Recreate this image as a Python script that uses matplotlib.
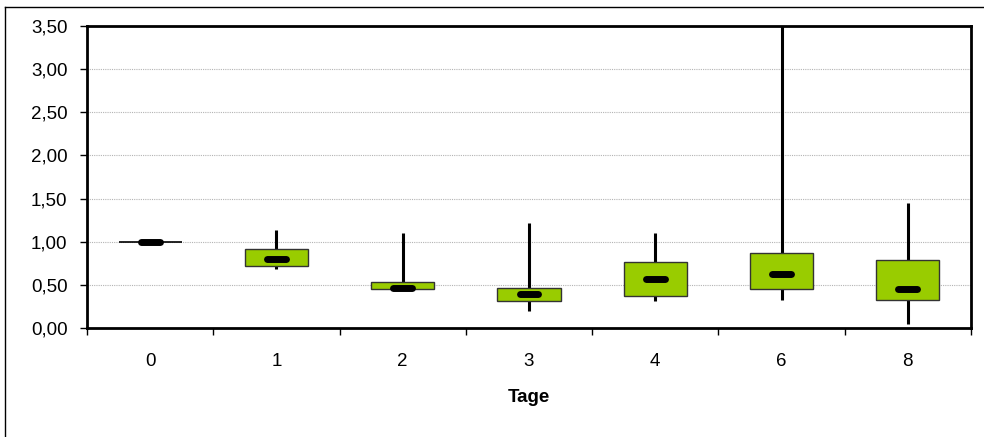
import matplotlib
matplotlib.use("Agg")
import matplotlib.pyplot as plt
from matplotlib.lines import Line2D
from matplotlib.ticker import FixedLocator, FuncFormatter

categories = ["0", "1", "2", "3", "4", "6", "8"]
whisker_low = [1.00, 0.68, 0.44, 0.20, 0.31, 0.32, 0.05]
q1 = [1.00, 0.72, 0.45, 0.31, 0.37, 0.45, 0.32]
median = [1.00, 0.80, 0.46, 0.39, 0.57, 0.63, 0.45]
q3 = [1.00, 0.92, 0.53, 0.465, 0.76, 0.87, 0.79]
whisker_high = [1.00, 1.13, 1.10, 1.22, 1.10, 3.60, 1.45]
y_ticks = [0.0, 0.5, 1.0, 1.5, 2.0, 2.5, 3.0, 3.5]

plt.rcParams['font.family'] = ['Liberation Sans', 'DejaVu Sans']

fig = plt.figure(figsize=(9.84, 4.37), dpi=100)
ax = fig.add_axes([87/984, 1 - 328/437, 884/984, 302/437])

x = list(range(len(categories)))
box_w = 0.5
green = "#99cc00"

for i in x:
    ax.vlines(i, whisker_low[i], whisker_high[i], color="black", lw=2.2, zorder=2)
    h = q3[i] - q1[i]
    if h > 0:
        ax.bar(i, h, bottom=q1[i], width=box_w, color=green,
               edgecolor="#333333", linewidth=1.0, zorder=3)
    else:
        ax.hlines(q1[i], i - box_w/2, i + box_w/2, color="black", lw=1.2, zorder=3)
    ax.plot([i - 0.075, i + 0.075], [median[i], median[i]], color="black",
            lw=5, solid_capstyle="round", zorder=4)

ax.set_xlim(-0.5, len(categories) - 0.5)
ax.set_ylim(0, 3.5)
ax.set_yticks(y_ticks)
ax.yaxis.set_major_formatter(FuncFormatter(lambda v, p: f"{v:.2f}".replace(".", ",")))
ax.grid(axis="y", color="#b4b4b4", linestyle=(0, (1, 1)), linewidth=0.8, zorder=0)
ax.set_axisbelow(True)

ax.set_xticks(x)
ax.set_xticklabels(categories)
ax.xaxis.set_minor_locator(FixedLocator([i + 0.5 for i in range(-1, len(categories))]))
ax.tick_params(axis="x", which="major", length=0, pad=18, labelsize=13.5)
ax.tick_params(axis="x", which="minor", length=5, width=1, color="black", direction="out")
ax.tick_params(axis="y", which="major", length=5, width=1, direction="out", pad=9, labelsize=13.5)

for s in ax.spines.values():
    s.set_linewidth(2)
    s.set_color("black")

ax.set_xlabel("Tage", fontweight="bold", fontsize=13.5, labelpad=14)

# outer chart border (top and left visible)
fig.add_artist(Line2D([5/984, 5/984], [0, 1 - 7/437], transform=fig.transFigure, color="black", lw=1))
fig.add_artist(Line2D([5/984, 1], [1 - 7/437, 1 - 7/437], transform=fig.transFigure, color="black", lw=1))

fig.savefig("out.png", dpi=100)
